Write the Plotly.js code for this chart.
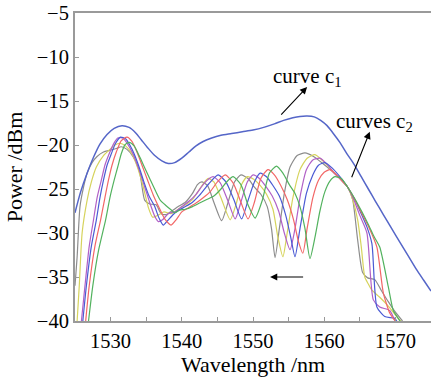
<!DOCTYPE html>
<html><head><meta charset="utf-8">
<script src="https://cdn.plot.ly/plotly-3.0.1.min.js"></script>
<style>
html,body{margin:0;padding:0;background:#fff;}
#chart{width:431px;height:377px;}
</style>
</head><body><div id="chart"></div>
<script>
// Curve c1 (broadband)
const c1X = [1525,1525.8,1526.7,1527.6,1528.5,1529.5,1530.5,1531.6,1532.6,1533.5,1534.3,1535.2,1536.2,1537.2,1538.1,1539,1540,1541,1542,1543,1544.2,1545.5,1547,1548.5,1550,1551.5,1553,1554.3,1555.6,1556.6,1557.6,1558.6,1559.5,1560.4,1561.2,1562.2,1563.2,1564.2,1565.2,1566.2,1567.2,1568.3,1569.4,1570.6,1571.8,1573,1574,1575];
const c1Y = [-27.7,-25.3,-23.2,-21.4,-19.9,-18.8,-18.1,-17.8,-18,-18.6,-19.4,-20.3,-21.2,-21.8,-22.1,-22,-21.5,-20.8,-20.1,-19.6,-19.2,-18.9,-18.7,-18.5,-18.3,-18,-17.6,-17.2,-16.9,-16.75,-16.7,-16.8,-17.2,-17.8,-18.6,-19.7,-21,-22.2,-23.6,-25,-26.4,-27.9,-29.4,-31,-32.6,-34.2,-35.4,-36.6];

// Curves c2 (six spectra, shifting left)
const greyX = [1525,1525.3,1525.7,1526.2,1526.7,1527.4,1528.1,1529,1529.9,1530.8,1531.5,1532.3,1533.2,1534.1,1534.8,1535.5,1536.4,1537.1,1537.8,1538.6,1539.5,1540.5,1541.5,1542.2,1542.8,1543.6,1544.5,1545.6,1546.5,1547.4,1548.3,1549.3,1550.2,1551.1,1552,1552.6,1553.1,1553.7,1554.4,1555.2,1556.2,1557.3,1558.5,1559.8,1561,1562.2,1563.3,1564,1564.7,1565.4,1566.1,1567.1,1568,1569,1570,1571];
const greyY = [-36,-32.7,-27,-24.8,-23.2,-22,-21.3,-20.8,-20.6,-20.4,-20.2,-20.5,-21.4,-23.2,-26.3,-26.7,-26.8,-27.8,-27.9,-27.5,-27,-26.5,-25.5,-24.5,-24.2,-24.6,-26.5,-28.6,-26.5,-24.2,-23.4,-23.8,-24.8,-25.6,-27,-29.5,-32.8,-29.5,-25.5,-22.5,-21.2,-20.9,-21.3,-22.1,-22.9,-23.8,-24.8,-26.2,-30.8,-34.5,-35.1,-35.3,-36.5,-37.8,-39,-40];

const yellowX = [1525.3,1525.6,1526,1526.7,1527.3,1528,1529,1529.9,1530.6,1531.3,1532.1,1533,1533.8,1534.6,1535.3,1535.9,1536.6,1537.5,1538.5,1539.5,1540.5,1541.5,1542.5,1543.7,1544.5,1545.5,1546.8,1547.6,1548.4,1549.2,1550.1,1551,1551.9,1552.8,1553.5,1554.2,1554.8,1555.6,1556.6,1557.6,1558.7,1559.8,1561,1562.2,1563.3,1564,1564.7,1565.2,1565.7,1566.2,1566.7,1567.8,1569,1570.4,1571];
const yellowY = [-40,-36,-30,-26.3,-24.2,-22.5,-21.2,-20.5,-20,-19.8,-20.1,-21,-22.6,-24.8,-27.1,-28.2,-28,-27.6,-27.8,-27.3,-26.8,-26.2,-25,-23.8,-24.2,-26,-28.5,-26.8,-24.5,-23.6,-23.9,-24.6,-25.6,-27.3,-30.5,-32.7,-30,-26,-22.8,-21.5,-21.1,-21.8,-22.8,-23.8,-24.8,-26.2,-28.5,-31.5,-35,-35.8,-36.5,-37.3,-38.3,-39.7,-40.2];

const purpleX = [1525.9,1526.4,1527,1527.6,1528.1,1528.7,1529.2,1529.8,1530.4,1531,1531.7,1532.4,1533.2,1534,1534.8,1535.6,1536.2,1536.7,1537.3,1538.1,1539,1540,1541,1542,1543.2,1544.4,1545.4,1546.5,1547.5,1548.3,1549.2,1550,1550.9,1551.8,1552.7,1553.6,1554.4,1555.2,1555.9,1556.7,1557.5,1558.4,1559.4,1560.4,1561.4,1562.4,1563.3,1564.2,1565,1566,1566.9,1567.8,1569.2,1570,1570.5];
const purpleY = [-40,-36,-31.5,-28.5,-26,-24,-22.3,-21,-19.9,-19.2,-19.2,-19.9,-21.1,-22.8,-24.8,-26.8,-28.1,-28.7,-28.5,-27.8,-27.6,-27,-26.4,-25.6,-24.3,-23.6,-24.3,-26.4,-28.4,-26.5,-24.2,-23.4,-23.8,-24.7,-25.8,-27.5,-30,-31.9,-29.5,-25.5,-22.8,-21.7,-21.5,-22.2,-23.2,-24,-24.8,-26.3,-28,-30,-37.6,-38.4,-38.8,-40,-40.2];

const blueX = [1526.1,1526.6,1527.3,1528,1528.5,1529,1529.5,1530.1,1530.7,1531.4,1532.1,1532.7,1533.3,1534,1534.6,1535.4,1536.2,1536.8,1537.4,1538,1538.8,1539.6,1540.5,1541.5,1542.5,1543.8,1545.1,1546.2,1547.3,1548.4,1549.3,1550.2,1551,1551.9,1552.8,1553.7,1554.6,1555.3,1555.9,1556.6,1557.5,1558.4,1559.2,1560.1,1561.1,1562.2,1563.3,1564.3,1565.2,1566,1566.7,1567.4,1568.5,1569.9,1570.3];
const blueY = [-40,-36,-31.5,-28.5,-26,-24,-22.3,-21,-19.8,-19.1,-19.3,-20,-21,-22.5,-24,-25.8,-27,-28.3,-29.1,-28.6,-27.9,-27.4,-27,-26.5,-25.7,-24.4,-23.4,-24.2,-26.2,-28.4,-26.3,-24.2,-23.2,-23.6,-24.6,-25.8,-28,-30.5,-32.7,-29.5,-25.5,-23.4,-22.3,-22,-22.6,-23.6,-24.8,-26.2,-27.8,-29.3,-31.2,-38.4,-39.5,-39.7,-40.2];

const redX = [1526.5,1527,1527.8,1528.6,1529.2,1529.7,1530.2,1530.8,1531.5,1532.3,1533,1533.8,1534.5,1535.2,1536,1536.8,1537.6,1538.5,1539.2,1540,1541,1542,1543,1544,1545,1546.1,1547.2,1548.3,1549.3,1550.2,1551.1,1552.1,1553,1553.9,1554.8,1555.7,1556.4,1557,1557.6,1558.4,1559.2,1560,1560.8,1561.6,1562.4,1563.3,1564.3,1565.3,1566.3,1567.4,1568.3,1569.2,1569.7,1570.2];
const redY = [-40,-36,-31.5,-28.5,-26,-24,-22.3,-20.8,-19.5,-19.1,-19.6,-21,-22.5,-24,-25.7,-27.1,-28.4,-29.1,-28.5,-27.6,-27.1,-26.6,-26,-25.3,-24.2,-23.4,-24.3,-26.5,-28.4,-26.5,-23.8,-22.8,-23.4,-24.6,-26.2,-28.5,-31,-32.3,-29.5,-26,-24,-23.1,-22.8,-23.3,-24,-24.8,-26.2,-27.8,-29.4,-31.6,-36.8,-39.1,-39.7,-40.2];

const greenX = [1526.9,1527.5,1528.3,1529.3,1529.9,1530.5,1531,1531.5,1532,1532.6,1533.3,1534,1534.8,1535.6,1536.3,1537,1537.8,1538.4,1539,1539.7,1540.5,1541.5,1542.5,1543.5,1544.5,1545.5,1546.3,1547.2,1548.3,1549.3,1550.3,1551.3,1552.3,1553.3,1554.2,1555.1,1555.9,1556.6,1557.3,1558,1558.7,1559.4,1560.1,1560.8,1561.5,1562.4,1563.3,1564.3,1565.3,1566.3,1567,1567.8,1569,1569.7,1570.4,1570.8];
const greenY = [-40,-36,-32,-28.5,-26,-24,-22.5,-21,-20,-19.7,-20.1,-21.2,-22.6,-24,-25.2,-26.3,-26.9,-27.3,-27.7,-27.4,-27.3,-27,-26.6,-26.2,-25.8,-25,-24.2,-23.6,-24.5,-26.8,-28.3,-26.3,-23.2,-22.4,-23.2,-24.5,-25.5,-27,-29.5,-32.9,-30.5,-27.5,-25.3,-24.1,-23.6,-23.8,-24.8,-26.1,-27.6,-29.2,-30.4,-31.6,-36.1,-38.8,-39.7,-40.2];

const xTickVals = [1530,1540,1550,1560,1570];
const yTickVals = [-5,-10,-15,-20,-25,-30,-35,-40];

const c2 = [
  {x: greyX, y: greyY, color: '#8c8c8c'},
  {x: yellowX, y: yellowY, color: '#d6d35c'},
  {x: purpleX, y: purpleY, color: '#b160c6'},
  {x: blueX, y: blueY, color: '#4a5ad4'},
  {x: redX, y: redY, color: '#f26666'},
  {x: greenX, y: greenY, color: '#52b25e'}
];

const traces = c2.map(c => ({
  x: c.x, y: c.y, type: 'scatter', mode: 'lines',
  line: {color: c.color, width: 1.2, shape: 'spline', smoothing: 0.6},
  hoverinfo: 'skip', showlegend: false
}));
traces.push({
  x: c1X, y: c1Y, type: 'scatter', mode: 'lines',
  line: {color: '#5566c8', width: 1.5, shape: 'spline', smoothing: 0.8},
  hoverinfo: 'skip', showlegend: false
});

const serif = 'Liberation Serif';
const tickFont = {family: serif, size: 20.5, color: '#000'};
const layout = {
  width: 431, height: 377,
  margin: {l: 75, r: 0, t: 13, b: 56},
  paper_bgcolor: '#ffffff', plot_bgcolor: '#ffffff',
  showlegend: false,
  font: {family: serif, color: '#000', size: 20},
  xaxis: {
    range: [1525, 1575], tickvals: xTickVals, ticktext: xTickVals.map(String),
    ticks: 'inside', ticklen: 4, tickcolor: '#999', tickwidth: 1,
    minor: {dtick: 5, tick0: 1525, ticks: 'inside', ticklen: 4, tickcolor: '#999'},
    showline: true, linecolor: '#9a9a9a', linewidth: 2, mirror: true,
    showgrid: false, zeroline: false,
    tickfont: tickFont,
    title: {text: 'Wavelength /nm', font: {family: serif, size: 22, color: '#000'}, standoff: 4}
  },
  yaxis: {
    range: [-40, -5], tickvals: yTickVals,
    ticks: 'inside', ticklen: 4, tickcolor: '#999', tickwidth: 1,
    showline: true, linecolor: '#9a9a9a', linewidth: 2, mirror: false,
    showgrid: false, zeroline: false,
    tickfont: tickFont,
    title: {text: 'Power /dBm', font: {family: serif, size: 22, color: '#000'}, standoff: 8}
  },
  annotations: [
    {x: 1557.6, y: -13.4, ax: 1553.4, ay: -17.05, axref: 'x', ayref: 'y', xref: 'x', yref: 'y',
     text: ' ', showarrow: true, arrowhead: 2, arrowsize: 1.3, arrowwidth: 1.1, arrowcolor: '#000'},
    {x: 1566.4, y: -18.5, ax: 1563.3, ay: -24.8, axref: 'x', ayref: 'y', xref: 'x', yref: 'y',
     text: ' ', showarrow: true, arrowhead: 2, arrowsize: 1.3, arrowwidth: 1.1, arrowcolor: '#000'},
    {x: 1552.4, y: -35, ax: 1557.6, ay: -35, axref: 'x', ayref: 'y', xref: 'x', yref: 'y',
     text: ' ', showarrow: true, arrowhead: 2, arrowsize: 1.3, arrowwidth: 1.1, arrowcolor: '#000'},
    {x: 1557.6, y: -12.3, xref: 'x', yref: 'y', text: 'curve c<sub>1</sub>', showarrow: false,
     font: {family: serif, size: 21, color: '#000'}},
    {x: 1567.1, y: -17.4, xref: 'x', yref: 'y', text: 'curves c<sub>2</sub>', showarrow: false,
     font: {family: serif, size: 21, color: '#000'}}
  ]
};

Plotly.newPlot('chart', traces, layout, {staticPlot: true, displayModeBar: false});
</script>
</body></html>
